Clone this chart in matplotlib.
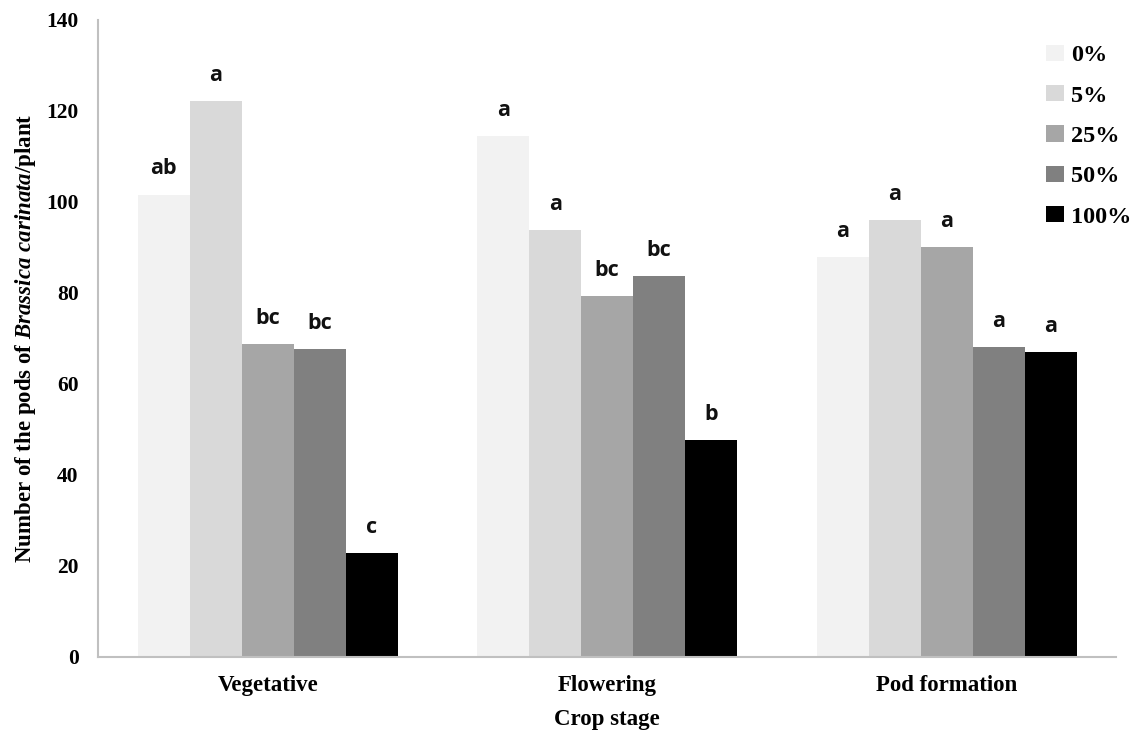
import matplotlib
matplotlib.use("Agg")
import matplotlib.pyplot as plt
import numpy as np
from matplotlib.patches import Patch

stages = ["Vegetative", "Flowering", "Pod formation"]
series = ["0%", "5%", "25%", "50%", "100%"]
values = {
    "0%":   [101.6, 114.4, 87.9],
    "5%":   [122.1, 93.9, 96.1],
    "25%":  [68.7, 79.3, 90.0],
    "50%":  [67.6, 83.8, 68.0],
    "100%": [22.9, 47.7, 66.9],
}
letters = {
    "0%":   ["ab", "a", "a"],
    "5%":   ["a", "a", "a"],
    "25%":  ["bc", "bc", "a"],
    "50%":  ["bc", "bc", "a"],
    "100%": ["c", "b", "a"],
}
colors = ["#f2f2f2", "#d9d9d9", "#a6a6a6", "#808080", "#000000"]

plt.rcParams["mathtext.fontset"] = "custom"
plt.rcParams["mathtext.it"] = "Liberation Serif:style=italic:weight=bold"
plt.rcParams["mathtext.rm"] = "Liberation Serif:weight=bold"

fig = plt.figure(figsize=(11.47, 7.30), dpi=100)
ax = fig.add_axes([0.0854, 0.1, 0.888, 0.873])

x = np.arange(len(stages))
w = 0.153
for i, s in enumerate(series):
    pos = x + (i - 2) * w
    ax.bar(pos, values[s], width=w, color=colors[i], edgecolor="none", zorder=2)
    for xp, v, lab in zip(pos, values[s], letters[s]):
        ax.text(xp, v + 3.3, lab, ha="center", va="bottom",
                fontfamily="Open Sans", fontweight="bold", fontsize=15.5, color="#111111")

ax.set_xlim(-0.5, 2.5)
ax.set_ylim(0, 140)
ax.set_yticks(np.arange(0, 141, 20))
ax.set_xticks(x)
ax.set_xticklabels(stages)
for lab in ax.get_yticklabels():
    lab.set_fontfamily("Liberation Serif")
    lab.set_fontweight("bold")
    lab.set_fontsize(15.5)
for lab in ax.get_xticklabels():
    lab.set_fontfamily("Liberation Serif")
    lab.set_fontweight("bold")
    lab.set_fontsize(16.5)
ax.tick_params(axis="both", length=0)
ax.tick_params(axis="y", pad=14)
ax.tick_params(axis="x", pad=13)

for sp in ["top", "right"]:
    ax.spines[sp].set_visible(False)
for sp in ["left", "bottom"]:
    ax.spines[sp].set_color("#c0c0c0")
    ax.spines[sp].set_linewidth(1.5)

ax.set_xlabel("Crop stage", fontfamily="Liberation Serif", fontweight="bold",
              fontsize=16.5, labelpad=9)
ax.set_ylabel(r"Number of the pods of $\mathit{Brassica\ carinata}$/plant",
              fontfamily="Liberation Serif", fontweight="bold", fontsize=16.5)
ax.yaxis.set_label_coords(-0.059, 0.5)

handles = [Patch(facecolor=c, edgecolor="none") for c in colors]
leg = ax.legend(handles, series, loc="upper left", bbox_to_anchor=(0.921, 0.976),
                frameon=False, prop={"family": "Liberation Serif", "weight": "bold", "size": 17.5},
                handlelength=0.75, handleheight=0.65, handletextpad=0.3, labelspacing=0.77,
                borderaxespad=0)

fig.savefig("out.png", dpi=100)
